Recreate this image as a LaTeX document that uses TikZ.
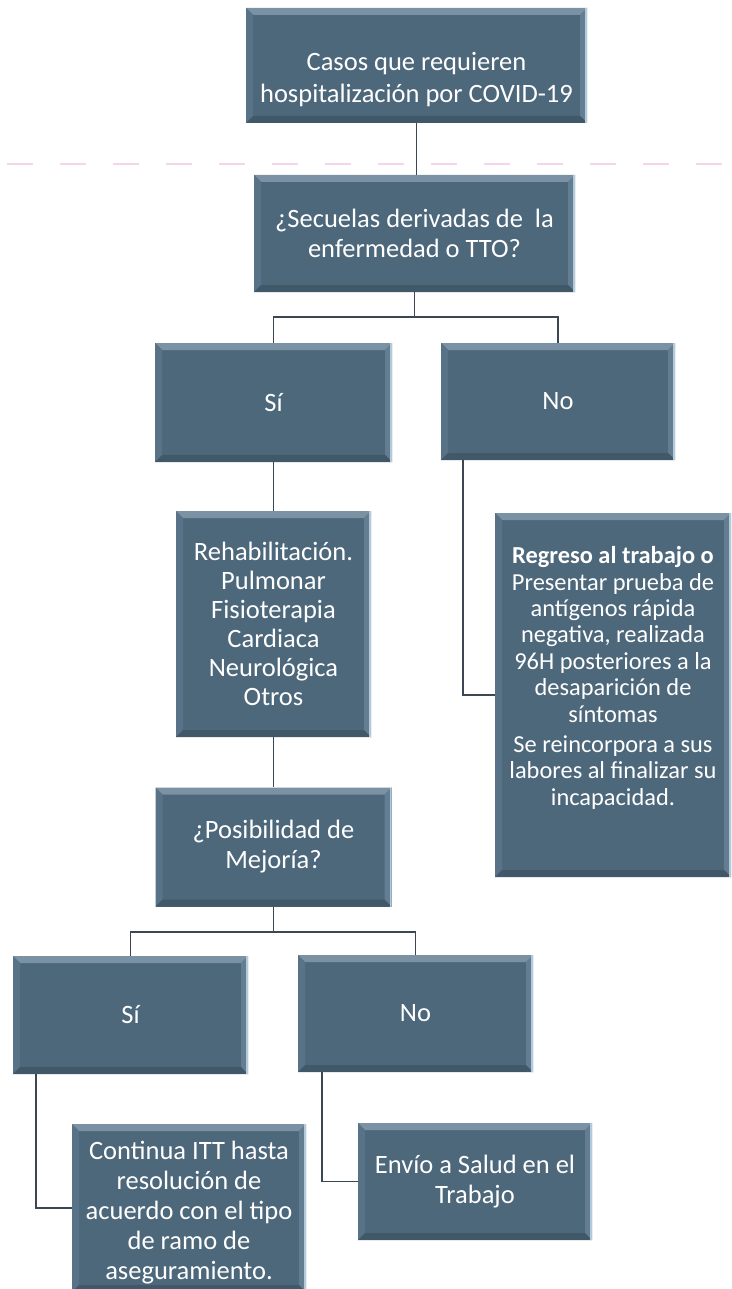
\documentclass[tikz,border=0pt]{standalone}
\usepackage{fontspec}
\setmainfont{Carlito}
\definecolor{boxblue}{HTML}{4D677B}
\definecolor{boxtop}{HTML}{7A92A3}
\definecolor{boxleft}{HTML}{587388}
\definecolor{boxright}{HTML}{637E92}
\definecolor{boxbottom}{HTML}{415869}
\definecolor{boxedge}{HTML}{B4CAD8}
\definecolor{connline}{HTML}{3B4753}
\definecolor{scanpink}{HTML}{F5D6E8}
\tikzset{
  bevelbox/.style={fill=boxblue, text=white, align=center, inner sep=0pt,
    font=\fontsize{26.5}{30}\selectfont,
    path picture={
      \fill[boxtop] (path picture bounding box.north west) -- (path picture bounding box.north east)
        -- ([shift={(-7pt,-7pt)}]path picture bounding box.north east) -- ([shift={(7pt,-7pt)}]path picture bounding box.north west) -- cycle;
      \fill[boxleft] (path picture bounding box.north west) -- ([shift={(7pt,-7pt)}]path picture bounding box.north west)
        -- ([shift={(7pt,7pt)}]path picture bounding box.south west) -- (path picture bounding box.south west) -- cycle;
      \fill[boxright] (path picture bounding box.north east) -- ([shift={(-7pt,-7pt)}]path picture bounding box.north east)
        -- ([shift={(-7pt,7pt)}]path picture bounding box.south east) -- (path picture bounding box.south east) -- cycle;
      \fill[boxbottom] (path picture bounding box.south west) -- ([shift={(7pt,7pt)}]path picture bounding box.south west)
        -- ([shift={(-7pt,7pt)}]path picture bounding box.south east) -- (path picture bounding box.south east) -- cycle;
      \fill[boxedge] ([xshift=-2pt]path picture bounding box.north east) rectangle (path picture bounding box.south east);
    }},
  conn/.style={draw=connline, line width=1.6pt},
}
\begin{document}
\begin{tikzpicture}[x=1pt,y=-1pt]
\useasboundingbox[fill=white] (0,0) rectangle (731,1289);
% scan mark
\draw[scanpink, line width=1.2pt, dash pattern=on 26pt off 27pt] (7,164) -- (731,164);

\node[bevelbox, minimum width=341pt, minimum height=115pt, font=\fontsize{26.5}{32}\selectfont] (casos) at (416.5,65.5) {\rule{0pt}{46pt}Casos que requieren\\hospitalización por COVID-19};
\node[bevelbox, minimum width=321pt, minimum height=117pt] (secuelas) at (414.5,233.5) {¿Secuelas derivadas de\ \ la\\enfermedad o TTO?};
\node[bevelbox, minimum width=237pt, minimum height=119pt] (si1) at (273.5,402.5) {Sí};
\node[bevelbox, minimum width=234pt, minimum height=117pt] (no1) at (558,401.5) {No};
\node[bevelbox, minimum width=195pt, minimum height=226pt, font=\fontsize{26.5}{29}\selectfont] (rehab) at (273.5,624) {Rehabilitación.\\Pulmonar\\Fisioterapia\\Cardiaca\\Neurológica\\Otros};
\node[bevelbox, minimum width=236pt, minimum height=364pt, font=\fontsize{24.4}{26.4}\selectfont] (regreso) at (613,695) {\textbf{Regreso al trabajo o}\\Presentar prueba de\\antígenos rápida\\negativa, realizada\\96H posteriores a la\\desaparición de\\síntomas\\[4pt]Se reincorpora a sus\\labores al finalizar su\\incapacidad.\rule[-38pt]{0pt}{1pt}};
\node[bevelbox, minimum width=236pt, minimum height=119pt] (mejoria) at (273.5,847) {¿Posibilidad de\\Mejoría?};
\node[bevelbox, minimum width=235pt, minimum height=118pt] (si2) at (130.5,1015) {Sí};
\node[bevelbox, minimum width=235pt, minimum height=117pt] (no2) at (415.5,1013.5) {No};
\node[bevelbox, minimum width=234pt, minimum height=168pt] (continua) at (189,1208) {\rule{0pt}{28pt}Continua ITT hasta\\resolución de\\acuerdo con el tipo\\de ramo de\\aseguramiento.};
\node[bevelbox, minimum width=234pt, minimum height=117pt] (envio) at (475,1181.5) {Envío a Salud en el\\Trabajo};

\coordinate (split1) at ([yshift=-25pt]secuelas.south);
\coordinate (split2) at ([yshift=-25pt]mejoria.south);

\draw[conn] (casos.south) -- (casos.south |- secuelas.north);
\draw[conn] (secuelas.south) -- (split1);
\draw[conn] (si1.north) |- (split1) -| (no1.north);
\draw[conn] (si1.south) -- (rehab.north);
\draw[conn] ([xshift=22pt]no1.south west) |- (regreso.west);
\draw[conn] (rehab.south) -- (mejoria.north);
\draw[conn] (mejoria.south) -- (split2);
\draw[conn] (si2.north) |- (split2) -| (no2.north);
\draw[conn] ([xshift=23pt]si2.south west) |- (continua.west);
\draw[conn] ([xshift=24pt]no2.south west) |- (envio.west);
\end{tikzpicture}
\end{document}
